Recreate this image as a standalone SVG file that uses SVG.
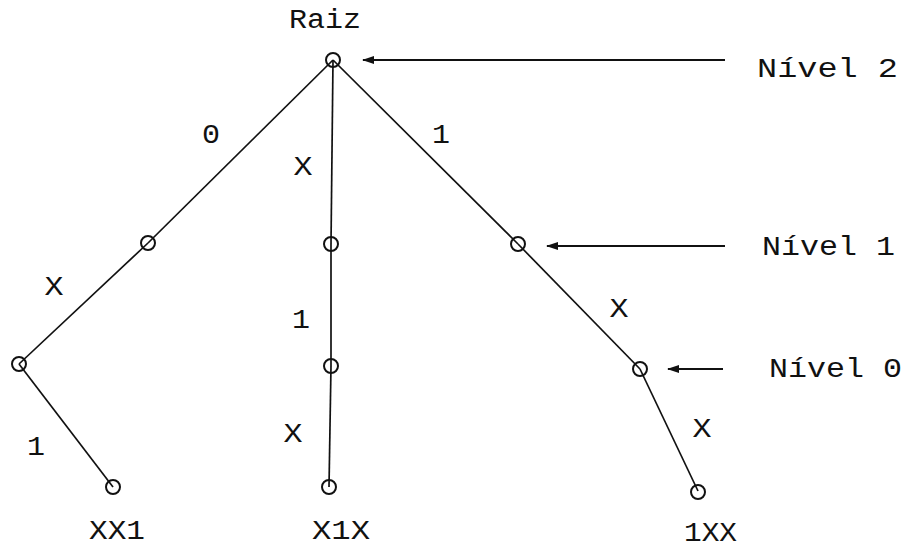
<svg xmlns="http://www.w3.org/2000/svg" width="905" height="549" viewBox="0 0 905 549">
<style>
text{font-family:"Liberation Mono","Courier New",monospace;font-size:27px;fill:#111}
.lbl{text-anchor:middle}
.node circle{fill:none;stroke:#111;stroke-width:2}
#edges line{stroke:#111;stroke-width:1.7}
#arrows line{stroke:#111;stroke-width:2}
</style>
<defs>
<marker id="ah" viewBox="0 0 12 8" refX="11" refY="4" markerWidth="12" markerHeight="8" markerUnits="userSpaceOnUse" orient="auto">
<path d="M0,0 L12,4 L0,8 Z" fill="#111"/>
</marker>
</defs>
<g id="edges">
<line x1="333" y1="60" x2="148" y2="243"/>
<line x1="148" y1="243" x2="19" y2="364"/>
<line x1="19" y1="364" x2="113" y2="487"/>
<line x1="333" y1="60" x2="331" y2="244"/>
<line x1="331" y1="244" x2="331" y2="366"/>
<line x1="331" y1="366" x2="329" y2="487"/>
<line x1="333" y1="60" x2="518" y2="244"/>
<line x1="518" y1="244" x2="640" y2="369"/>
<line x1="640" y1="369" x2="698" y2="491"/>
</g>
<g id="arrows">
<line x1="725" y1="60" x2="363" y2="60" marker-end="url(#ah)"/>
<line x1="725" y1="246" x2="547" y2="246" marker-end="url(#ah)"/>
<line x1="723" y1="369" x2="668" y2="369" marker-end="url(#ah)"/>
</g>
<g id="root" class="node"><circle cx="333" cy="60" r="7"/><text x="289" y="28" textLength="72" lengthAdjust="spacingAndGlyphs">Raiz</text></g>
<g id="l1" class="node"><circle cx="148" cy="243" r="7"/></g>
<g id="l2" class="node"><circle cx="19" cy="364" r="7"/></g>
<g id="l3" class="node"><circle cx="113" cy="487" r="7"/><text x="89" y="539" textLength="56" lengthAdjust="spacingAndGlyphs">XX1</text></g>
<g id="m1" class="node"><circle cx="331" cy="244" r="7"/></g>
<g id="m2" class="node"><circle cx="331" cy="366" r="7"/></g>
<g id="m3" class="node"><circle cx="329" cy="487" r="7"/><text x="312" y="539" textLength="58" lengthAdjust="spacingAndGlyphs">X1X</text></g>
<g id="r1" class="node"><circle cx="518" cy="244" r="7"/></g>
<g id="r2" class="node"><circle cx="640" cy="369" r="7"/></g>
<g id="r3" class="node"><circle cx="698" cy="492" r="7"/><text x="684" y="541" textLength="53" lengthAdjust="spacingAndGlyphs">1XX</text></g>
<g id="levels">
<text x="757" y="77" textLength="141" lengthAdjust="spacingAndGlyphs">Nível 2</text>
<text x="762" y="255" textLength="133" lengthAdjust="spacingAndGlyphs">Nível 1</text>
<text x="769" y="377" textLength="133" lengthAdjust="spacingAndGlyphs">Nível 0</text>
</g>
<g id="edge-labels">
<text class="lbl" x="211" y="143" textLength="18" lengthAdjust="spacingAndGlyphs">0</text>
<text class="lbl" x="303" y="175" textLength="19" lengthAdjust="spacingAndGlyphs">X</text>
<text class="lbl" x="441" y="143" textLength="18" lengthAdjust="spacingAndGlyphs">1</text>
<text class="lbl" x="54" y="295" textLength="19" lengthAdjust="spacingAndGlyphs">X</text>
<text class="lbl" x="301" y="328" textLength="18" lengthAdjust="spacingAndGlyphs">1</text>
<text class="lbl" x="293" y="442" textLength="19" lengthAdjust="spacingAndGlyphs">X</text>
<text class="lbl" x="36" y="455" textLength="18" lengthAdjust="spacingAndGlyphs">1</text>
<text class="lbl" x="619" y="317" textLength="19" lengthAdjust="spacingAndGlyphs">X</text>
<text class="lbl" x="702" y="437" textLength="19" lengthAdjust="spacingAndGlyphs">X</text>
</g>
</svg>
